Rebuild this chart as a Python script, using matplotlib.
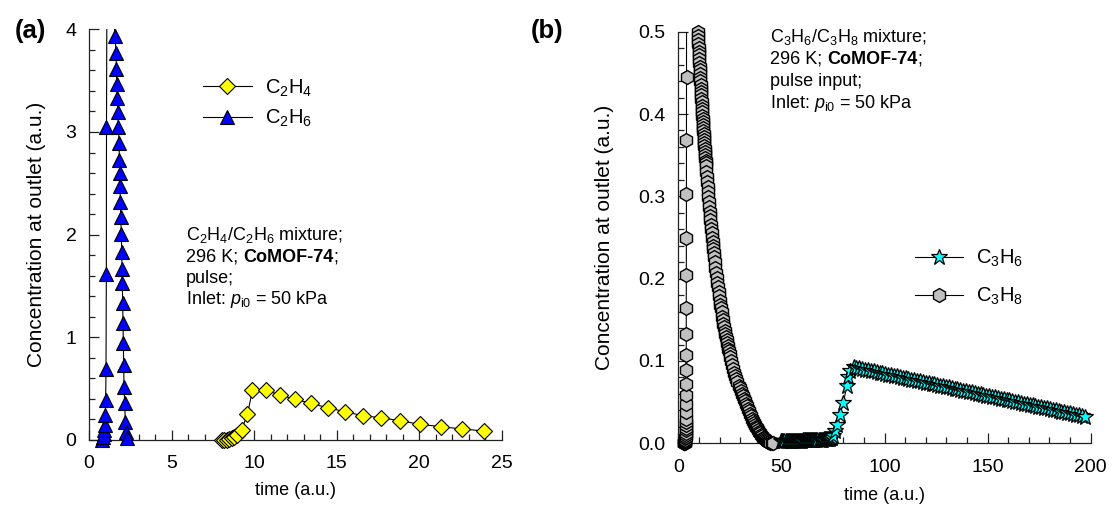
import matplotlib
matplotlib.use("Agg")
import matplotlib.pyplot as plt
from matplotlib.lines import Line2D
from matplotlib.patches import Rectangle
from matplotlib.ticker import MultipleLocator, FormatStrFormatter

plt.rcParams['font.family'] = ['Liberation Sans', 'DejaVu Sans']
plt.rcParams['mathtext.fontset'] = 'custom'
plt.rcParams['mathtext.rm'] = 'Liberation Sans'
plt.rcParams['mathtext.it'] = 'Liberation Sans:italic'
plt.rcParams['mathtext.bf'] = 'Liberation Sans:bold'

# ---------------- data: panel (a), C2H4/C2H6 pulse ----------------
t_c2h6 = [0.80, 0.85, 0.89, 0.93, 0.96, 0.99, 1.01, 1.03, 1.05, 1.06, 1.10,
          1.58, 1.64, 1.66, 1.68, 1.72, 1.74, 1.78, 1.82, 1.84, 1.86, 1.88, 1.90, 1.92,
          1.96, 1.98, 2.00, 2.02, 2.04, 2.06, 2.08, 2.10, 2.12, 2.16, 2.20, 2.24, 2.28]
c_c2h6 = [0.0, 0.03, 0.06, 0.10, 0.15, 0.24, 0.39, 0.69, 1.62, 3.05, 5.20,
          3.93, 3.77, 3.61, 3.47, 3.33, 3.19, 3.05, 2.89, 2.73, 2.60, 2.47, 2.32, 2.17,
          2.01, 1.83, 1.67, 1.53, 1.33, 1.14, 0.94, 0.73, 0.52, 0.36, 0.18, 0.08, 0.02]

t_c2h4 = [8.05, 8.20, 8.35, 8.50, 8.65, 8.80, 8.95, 9.24, 9.60, 9.90, 10.71, 11.56,
          12.50, 13.44, 14.45, 15.50, 16.57, 17.68, 18.83, 20.04, 21.30, 22.62, 23.92]
c_c2h4 = [0.0, 0.0, 0.003, 0.008, 0.015, 0.030, 0.050, 0.100, 0.250, 0.487, 0.487, 0.438,
          0.396, 0.357, 0.314, 0.276, 0.237, 0.217, 0.188, 0.153, 0.130, 0.107, 0.088]

# ---------------- data: panel (b), C3H6/C3H8 pulse ----------------
t_c3h8 = [2.6, 2.8, 3.0, 3.1, 3.2, 3.3, 3.35, 3.4, 3.45, 3.5, 3.55, 3.6, 3.62, 3.65,
          3.68, 3.7, 3.72, 3.74, 3.76, 3.78, 3.8, 3.82, 3.84, 3.86, 3.88, 3.9, 3.92,
          3.94, 3.96, 3.98, 4.1,
          9.4, 9.5, 9.6, 9.7, 9.8, 9.9, 10.0, 10.1, 10.2, 10.3, 10.4, 10.5, 10.6, 10.7,
          10.8, 10.9, 11.0, 11.1, 11.2, 11.3, 11.4, 11.5, 11.6, 11.7, 11.8, 11.9, 12.0,
          12.1, 12.2, 12.3, 12.4, 12.5, 12.6, 12.7, 12.8, 12.9, 13.0, 13.1, 13.2, 13.3, 13.4,
          13.6, 13.8, 14.0, 14.2, 14.4, 14.6, 14.8, 15.0, 15.2, 15.4, 15.6, 15.8, 16.0,
          16.2, 16.4, 16.6, 16.8, 17.0, 17.2, 17.4,
          17.7, 18.0, 18.3, 18.6, 18.9, 19.2, 19.5, 19.8, 20.1, 20.4, 20.7, 21.0, 21.3,
          21.6, 21.9, 22.2, 22.5, 22.8, 23.1, 23.4, 23.7, 24.0, 24.3, 24.6, 24.9, 25.2,
          25.7, 26.2, 26.7, 27.2, 27.7, 28.2, 28.7, 29.2, 29.7, 30.2, 30.7, 31.2, 31.7,
          32.2, 32.7, 33.2, 33.7, 34.2, 34.7, 35.2, 35.7, 36.2, 36.7, 37.2, 37.7, 38.2,
          38.7, 39.2, 39.7, 40.2, 40.7, 41.2, 41.7, 42.2, 42.7, 43.2, 43.7, 44.2, 44.7,
          45.2, 46.0]
c_c3h8 = [0.0, 0.0, 0.0, 0.0005, 0.001, 0.002, 0.003, 0.004, 0.006, 0.008, 0.010, 0.013,
          0.016, 0.019, 0.022, 0.026, 0.030, 0.038, 0.048, 0.059, 0.072, 0.089, 0.107,
          0.133, 0.164, 0.205, 0.250, 0.303, 0.368, 0.445, 0.90,
          0.5000, 0.4951, 0.4902, 0.4854, 0.4806, 0.4759, 0.4712, 0.4665, 0.4619, 0.4574,
          0.4529, 0.4484, 0.4440, 0.4396, 0.4353, 0.4310, 0.4268, 0.4226, 0.4184, 0.4143,
          0.4102, 0.4062, 0.4022, 0.3982, 0.3943, 0.3904, 0.3865, 0.3827, 0.3790, 0.3752,
          0.3715, 0.3679, 0.3643, 0.3607, 0.3571, 0.3536, 0.3501, 0.3467, 0.3433, 0.3399,
          0.3365,
          0.330, 0.323, 0.317, 0.311, 0.305, 0.299, 0.293, 0.287, 0.281, 0.276, 0.271,
          0.265, 0.260, 0.255, 0.250, 0.245, 0.240, 0.236, 0.231, 0.226,
          0.220, 0.213, 0.207, 0.201, 0.195, 0.190, 0.184, 0.179, 0.173, 0.168, 0.164,
          0.159, 0.154, 0.150, 0.145, 0.141, 0.137, 0.133, 0.129, 0.126, 0.122, 0.118,
          0.115, 0.112, 0.108, 0.105,
          0.100, 0.095, 0.090, 0.086, 0.082, 0.078, 0.074, 0.070, 0.067, 0.064, 0.060,
          0.057, 0.054, 0.051, 0.048, 0.045, 0.042, 0.039, 0.036, 0.033, 0.030, 0.027,
          0.025, 0.022, 0.020, 0.018, 0.016, 0.014, 0.012, 0.010, 0.009, 0.007, 0.006,
          0.005, 0.004, 0.003, 0.002, 0.001, 0.0005, 0.0, 0.0]

t_c3h6 = [50.0, 50.5, 51.0, 51.5, 52.0, 52.5, 53.0, 53.5, 54.0, 54.5, 55.0, 55.5, 56.0,
          56.5, 57.0, 57.5, 58.0, 58.5, 59.0, 59.5, 60.0, 60.5, 61.0, 61.5, 62.0, 62.5,
          63.0, 63.5, 64.0, 64.5, 65.0, 65.5, 66.0, 66.5, 67.0, 67.5, 68.0, 68.5, 69.0,
          69.5, 70.0, 70.5, 71.0, 71.5, 72.0, 72.5, 73.0, 73.5, 74.0, 74.5, 75.0,
          76.0, 77.0, 78.4, 80.0, 81.7, 82.5, 83.5,
          85.0, 86.4, 87.8, 89.2, 90.6, 92.0, 93.4, 94.8, 96.2, 97.6, 99.0, 100.4, 101.8,
          103.2, 104.6, 106.0, 107.4, 108.8, 110.2, 111.6, 113.0, 114.4, 115.8, 117.2,
          118.6, 120.0, 121.4, 122.8, 124.2, 125.6, 127.0, 128.4, 129.8, 131.2, 132.6,
          134.0, 135.4, 136.8, 138.2, 139.6, 141.0, 142.4, 143.8, 145.2, 146.6, 148.0,
          149.4, 150.8, 152.2, 153.6, 155.0, 156.4, 157.8, 159.2, 160.6, 162.0, 163.4,
          164.8, 166.2, 167.6, 169.0, 170.4, 171.8, 173.2, 174.6, 176.0, 177.4, 178.8,
          180.2, 181.6, 183.0, 184.4, 185.8, 187.2, 188.6, 190.0, 191.4, 192.8, 194.2,
          195.6, 197.0]
c_c3h6 = [0.003, 0.003, 0.003, 0.003, 0.003, 0.003, 0.003, 0.003, 0.003, 0.003, 0.003,
          0.003, 0.003, 0.003, 0.003, 0.003, 0.003, 0.003, 0.003, 0.003, 0.003,
          0.004, 0.004, 0.004, 0.004, 0.004, 0.004, 0.004, 0.004, 0.004, 0.004, 0.004,
          0.004, 0.004, 0.004, 0.004, 0.004, 0.004, 0.004, 0.004, 0.004,
          0.005, 0.005, 0.005, 0.005, 0.005, 0.005, 0.005, 0.006, 0.007, 0.009,
          0.015, 0.022, 0.034, 0.049, 0.069, 0.080, 0.088,
          0.0925, 0.0918, 0.0910, 0.0903, 0.0895, 0.0888, 0.0880, 0.0873, 0.0865, 0.0858,
          0.0850, 0.0843, 0.0835, 0.0828, 0.0820, 0.0813, 0.0805, 0.0798, 0.0790, 0.0783,
          0.0775, 0.0768, 0.0760, 0.0753, 0.0745, 0.0738, 0.0730, 0.0723, 0.0715, 0.0708,
          0.0700, 0.0693, 0.0685, 0.0678, 0.0670, 0.0663, 0.0655, 0.0648, 0.0640, 0.0633,
          0.0625, 0.0618, 0.0610, 0.0603, 0.0595, 0.0588, 0.0580, 0.0573, 0.0565, 0.0558,
          0.0550, 0.0543, 0.0535, 0.0528, 0.0520, 0.0513, 0.0505, 0.0498, 0.0490, 0.0483,
          0.0475, 0.0468, 0.0460, 0.0453, 0.0445, 0.0438, 0.0430, 0.0423, 0.0415, 0.0408,
          0.0400, 0.0393, 0.0385, 0.0378, 0.0370, 0.0363, 0.0355, 0.0348, 0.0340, 0.0333,
          0.0325]

xticks_a = [0, 5, 10, 15, 20, 25]
yticks_a = [0, 1, 2, 3, 4]
xticks_b = [0, 50, 100, 150, 200]
yticks_b = [0.0, 0.1, 0.2, 0.3, 0.4, 0.5]

# ---------------- figure ----------------
W, H = 1112, 522
fig = plt.figure(figsize=(W / 100, H / 100), dpi=100)


def axes_px(left, top, right, bottom):
    return fig.add_axes([left / W, 1 - bottom / H, (right - left) / W, (bottom - top) / H])


axA = axes_px(89, 29.3, 501.7, 440)
axB = axes_px(678.3, 31.7, 1090.7, 443.3)

SPINE = '#222222'
FS_TICK = 14
FS_TEXT = 13
FS_YLAB = 15


def style(ax, xticks, yticks, xminor, yminor, yfmt):
    ax.set_xlim(xticks[0], xticks[-1])
    ax.set_ylim(yticks[0], yticks[-1])
    ax.set_xticks(xticks)
    ax.set_yticks(yticks)
    ax.xaxis.set_minor_locator(MultipleLocator(xminor))
    ax.yaxis.set_minor_locator(MultipleLocator(yminor))
    ax.yaxis.set_major_formatter(FormatStrFormatter(yfmt))
    for s in ('top', 'right'):
        ax.spines[s].set_visible(False)
    for s in ('left', 'bottom'):
        ax.spines[s].set_linewidth(0.9)
        ax.spines[s].set_color(SPINE)
    ax.tick_params(which='both', direction='in', top=False, right=False,
                   width=0.9, color=SPINE, labelsize=FS_TICK)
    ax.tick_params(which='major', length=7)
    ax.tick_params(which='minor', length=4.5)
    ax.tick_params(axis='x', which='major', pad=11)
    ax.tick_params(axis='y', which='major', pad=9)
    ax.set_xlabel('time (a.u.)', fontsize=FS_TEXT)
    ax.set_ylabel('Concentration at outlet (a.u.)', fontsize=FS_YLAB)
    ax.xaxis.label.set_va('center')
    ax.yaxis.label.set_va('center')


style(axA, xticks_a, yticks_a, 1, 0.2, '%g')
style(axB, xticks_b, yticks_b, 10, 0.02, '%.1f')
axA.xaxis.set_label_coords(0.5, -0.122)
axA.yaxis.set_label_coords(-0.126, 0.5)
axB.xaxis.set_label_coords(0.5, -0.126)
axB.yaxis.set_label_coords(-0.178, 0.5)


def series(ax, t, c, marker, ms, fc, ec='black', mew=0.8):
    # connecting line clipped to the plot box, markers allowed to overhang it slightly
    ax.plot(t, c, '-', color='black', lw=0.8, zorder=3)
    pts, = ax.plot(t, c, ls='none', marker=marker, ms=ms, mfc=fc, mec=ec, mew=mew, zorder=4)
    pts.set_clip_path(Rectangle((-0.04, -0.06), 1.08, 1.09, transform=ax.transAxes))
    return Line2D([], [], color='black', lw=0.8, marker=marker, ms=ms, mfc=fc, mec=ec, mew=mew)


h_c2h6 = series(axA, t_c2h6, c_c2h6, '^', 10, '#0000FF')
h_c2h4 = series(axA, t_c2h4, c_c2h4, 'D', 8.5, '#FFFF00')
h_c3h8 = series(axB, t_c3h8, c_c3h8, 'h', 10, '#C0C0C0', '#000000', 1.0)
h_c3h6 = series(axB, t_c3h6, c_c3h6, '*', 12, '#00FFFF', '#000000', 0.9)

FS_LEG = 14.5
legA = axA.legend([h_c2h4, h_c2h6], ['C$_2$H$_4$', 'C$_2$H$_6$'], frameon=False,
                  loc='center left', bbox_to_anchor=(202.7 / W, 1 - 103.3 / H),
                  bbox_transform=fig.transFigure, fontsize=FS_LEG, handlelength=2.45,
                  handletextpad=0.65, labelspacing=0.45, borderpad=0, borderaxespad=0,
                  numpoints=1)
legB = axB.legend([h_c3h6, h_c3h8], ['C$_3$H$_6$', 'C$_3$H$_8$'], frameon=False,
                  loc='center left', bbox_to_anchor=(915 / W, 1 - 277.5 / H),
                  bbox_transform=fig.transFigure, fontsize=FS_LEG, handlelength=2.4,
                  handletextpad=0.65, labelspacing=0.85, borderpad=0, borderaxespad=0,
                  numpoints=1)


def chained_line(ax, x_px, y_px, pieces, size=FS_TEXT):
    # one text line made of consecutive pieces that differ in weight
    prev = fig.text(x_px / W, 1 - y_px / H, pieces[0][0], fontsize=size,
                    fontweight=pieces[0][1], ha='left', va='baseline')
    for s, w, gap in pieces[1:]:
        prev = ax.annotate(s, xy=(1, 0), xycoords=prev, xytext=(gap, 0),
                           textcoords='offset points', fontsize=size, fontweight=w,
                           ha='left', va='bottom', annotation_clip=False, clip_on=False)


SP = 3.6  # width of a space at the text size, in points

lines_a = [
    [('C$_2$H$_4$/C$_2$H$_6$ mixture;', 'normal', 0)],
    [('296 K;', 'normal', 0), ('CoMOF-74', 'bold', SP), (';', 'normal', 0)],
    [('pulse;', 'normal', 0)],
    [('Inlet: $p_{\\mathrm{i0}}$ = 50 kPa', 'normal', 0)],
]
for y_px, pieces in zip([240, 261.7, 282.7, 304.3], lines_a):
    chained_line(axA, 186, y_px, pieces)

lines_b = [
    [('C$_3$H$_6$/C$_3$H$_8$ mixture;', 'normal', 0)],
    [('296 K;', 'normal', 0), ('CoMOF-74', 'bold', SP), (';', 'normal', 0)],
    [('pulse input;', 'normal', 0)],
    [('Inlet: $p_{\\mathrm{i0}}$ = 50 kPa', 'normal', 0)],
]
for y_px, pieces in zip([42, 64, 86, 107.5], lines_b):
    chained_line(axB, 770, y_px, pieces)

fig.text(30 / W, 1 - 31 / H, '(a)', fontsize=18.5, fontweight='bold', ha='center', va='center')
fig.text(547 / W, 1 - 31 / H, '(b)', fontsize=18.5, fontweight='bold', ha='center', va='center')

fig.savefig('out.png', dpi=100)
